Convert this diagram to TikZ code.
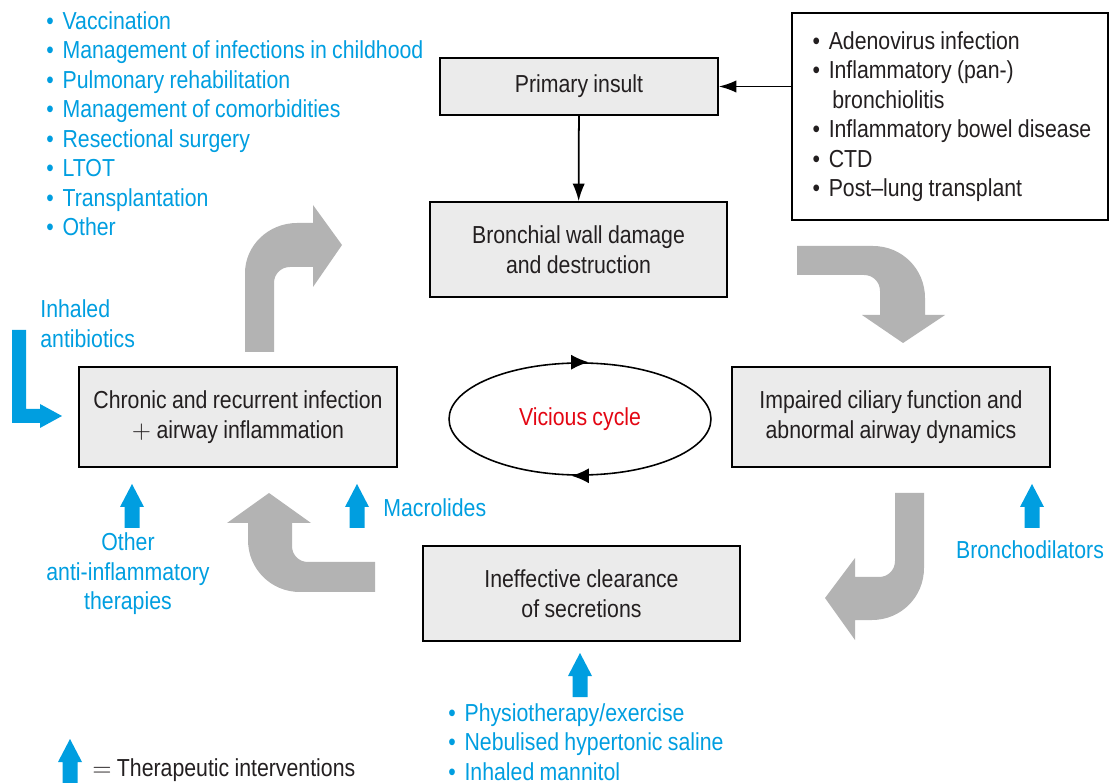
\documentclass[tikz,border=0pt]{standalone}
\usepackage{fontspec}
\setmainfont[FakeStretch=0.865, WordSpace=0.9]{Liberation Sans}
\usepackage{tikz}
\usetikzlibrary{positioning,calc,arrows.meta,shapes.geometric}
\definecolor{tipblue}{RGB}{0,158,224}
\definecolor{boxgray}{RGB}{235,235,235}
\definecolor{arrgray}{RGB}{179,179,179}
\definecolor{cyclered}{RGB}{227,6,19}
\definecolor{ink}{RGB}{35,31,32}
\newcommand{\cbox}[4]{\node [box, #2] (#1) at (#3) {#4}}
\newcommand{\therarr}[2]{\fill [tipblue, shift={(#1,#2)}] (-7.5,0) -- (-7.5,-21) -- (-12,-21) -- (0,-44) -- (12,-21) -- (7.5,-21) -- (7.5,0) -- cycle}
\newcommand{\bul}{\textbullet\hspace{5pt}}

\tikzset{
  box/.style={draw=black, line width=0.9pt, fill=boxgray, align=center, text=ink, inner sep=2pt},
  note/.style={text=tipblue, inner sep=0pt},
  link/.style={-{Latex[length=10pt,width=7pt]}, line width=1pt},
}

\begin{document}
\begin{tikzpicture}[x=0.02cm, y=-0.02cm, font=\fontsize{14}{16.8}\selectfont]
\useasboundingbox (0,0) rectangle (1109,783);

% boxes of the cycle
\cbox{insult}{minimum width=5.56cm, minimum height=1.14cm}{579,86.5}{Primary insult};
\cbox{damage}{minimum width=5.94cm, minimum height=1.9cm}{578.5,249.5}{Bronchial wall damage\\and destruction};
\cbox{infection}{minimum width=6.36cm, minimum height=2cm}{238,417}{Chronic and recurrent infection\\$+$ airway inflammation};
\cbox{ciliary}{minimum width=6.36cm, minimum height=2cm}{891,417}{Impaired ciliary function and\\abnormal airway dynamics};
\cbox{clearance}{minimum width=6.34cm, minimum height=1.9cm}{581.5,593.5}{Ineffective clearance\\of secretions};

\node [draw=black, line width=0.9pt, fill=white, text=ink, align=flush left, text width=5.5cm, inner xsep=0.41cm, minimum height=4.14cm] (causes) at (950,116.5)
  {\bul Adenovirus infection\\
   \bul Inflammatory (pan-)\\
   \phantom{\bul}\hspace{2pt}bronchiolitis\\
   \mbox{\bul Inflammatory bowel disease}\\
   \bul CTD\\
   \bul Post–lung transplant};

\draw [link] (insult) -- (damage);
\draw [link] (causes.west |- insult) -- (insult);

% vicious cycle
\node [draw=black, line width=0.9pt, ellipse, minimum width=5.24cm, minimum height=2.24cm, text=cyclered] (vicious) at (580,419) {Vicious cycle};
\draw [link, -{Latex[length=10pt,width=8.5pt]}] ([xshift=-2pt]vicious.north) -- ([xshift=5pt]vicious.north);
\draw [link, -{Latex[length=10pt,width=8.5pt]}] ([xshift=2pt]vicious.south) -- ([xshift=-5pt]vicious.south);

% grey bent arrows
\fill [arrgray] (245,352) -- (245,273) .. controls (245,246) and (268,223) .. (297,223) -- (313,223) -- (313,205) -- (342,245) -- (313,287) -- (313,267) -- (290,267) .. controls (281,267) and (274,274) .. (274,283) -- (274,352) -- cycle;
\fill [arrgray] (797,246) -- (873,246) .. controls (902,246) and (925,269) .. (925,298) -- (925,315) -- (945,315) -- (903,343) -- (862,315) -- (880,315) -- (880,291) .. controls (880,282) and (873,275) .. (864,275) -- (797,275) -- cycle;
\fill [arrgray] (895,493) -- (924,493) -- (924,568) .. controls (924,597) and (901,620) .. (872,620) -- (855,620) -- (855,640) -- (825,598) -- (855,558) -- (855,577) -- (879,577) .. controls (888,577) and (895,570) .. (895,561) -- cycle;
\fill [arrgray] (375,562) -- (375,592) -- (300,592) .. controls (271,592) and (248,569) .. (248,540) -- (248,523) -- (227,523) -- (269,493) -- (311,523) -- (292,523) -- (292,546) .. controls (292,555) and (299,562) .. (308,562) -- cycle;

% therapeutic interventions
\node [note, anchor=north west, align=left] (measures) at (46,11)
  {\bul Vaccination\\
   \bul Management of infections in childhood\\
   \bul Pulmonary rehabilitation\\
   \bul Management of comorbidities\\
   \bul Resectional surgery\\
   \bul LTOT\\
   \bul Transplantation\\
   \bul Other};

\fill [tipblue] (12,330) -- (26,330) -- (26,409) -- (40,409) -- (40,404) -- (62,416) -- (40,428) -- (40,423) -- (12,423) -- cycle;
\node [note, anchor=west, align=left] (antib) at (40,323.5) {Inhaled\\antibiotics};

\therarr{132}{528};
\node [note, align=center] (antiinf) at (128,574) {Other\\anti-inflammatory\\therapies};

\therarr{357}{528};
\node [note, anchor=west] (macro) at (383,508) {Macrolides};

\therarr{1032}{528};
\node [note] (broncho) at (1030,550) {Bronchodilators};

\therarr{580}{697};
\node [note, anchor=west, align=left] (physio) at (448,742)
  {\bul Physiotherapy/exercise\\
   \bul Nebulised hypertonic saline\\
   \bul Inhaled mannitol};

% legend
\therarr{70}{783};
\node [anchor=west, text=ink, inner sep=0pt] (legend) at (92,770) {$=$ Therapeutic interventions};

\end{tikzpicture}
\end{document}
